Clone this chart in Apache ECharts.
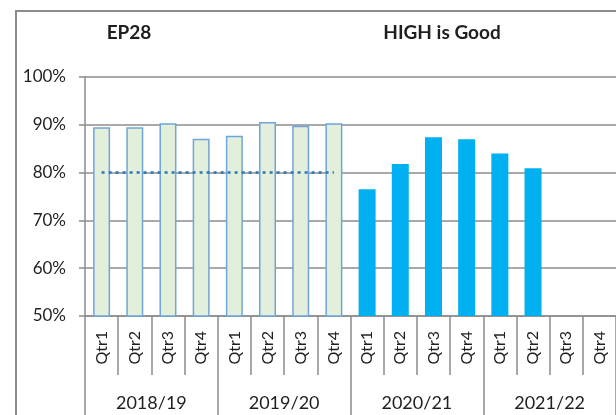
<!DOCTYPE html>
<html>
<head>
<meta charset="utf-8">
<title>EP28</title>
<script src="https://cdn.jsdelivr.net/npm/echarts@6/dist/echarts.min.js"></script>
<style>
  html, body { margin: 0; padding: 0; background: #fff; }
  #chart { width: 616px; height: 415px; }
</style>
</head>
<body>
<div id="chart"></div>
<script>
const years = ['2018/19', '2019/20', '2020/21', '2021/22'];
const quarters = ['Qtr1', 'Qtr2', 'Qtr3', 'Qtr4'];
// light green bars (2018/19 - 2019/20)
const baselineValues = [89.5, 89.5, 90.3, 87.1, 87.7, 90.6, 89.8, 90.3];
// blue bars (2020/21 onwards)
const currentValues = [76.5, 81.8, 87.4, 87.0, 84.0, 80.9];
// dotted target line over the first two years
const targetValues = [80, 80, 80, 80, 80, 80, 80, 80];
const yTicks = [50, 60, 70, 80, 90, 100];

const categories = [];
years.forEach(function () {
  quarters.forEach(function (q) { categories.push(q); });
});

const pad = function (arr, before, total) {
  const out = [];
  for (let i = 0; i < total; i++) {
    const j = i - before;
    out.push(j >= 0 && j < arr.length ? arr[j] : null);
  }
  return out;
};

const font = 'Lato, "Open Sans", sans-serif';
const gray = '#8c8c8c';
const textColor = '#1f1f1f';

const chart = echarts.init(document.getElementById('chart'));
chart.setOption({
  animation: false,
  textStyle: { fontFamily: font },
  graphic: [
    {
      type: 'rect',
      shape: { x: 16, y: 11, width: 700, height: 500 },
      style: { fill: 'none', stroke: gray, lineWidth: 2 },
      silent: true
    },
    {
      type: 'text', x: 129, y: 33,
      style: { text: 'EP28', font: 'bold 19px ' + font, fill: textColor, textAlign: 'center', textVerticalAlign: 'middle' }
    },
    {
      type: 'text', x: 442, y: 33,
      style: { text: 'HIGH is Good', font: 'bold 19px ' + font, fill: textColor, textAlign: 'center', textVerticalAlign: 'middle' }
    }
  ],
  grid: { left: 85, top: 77, width: 536, height: 239, containLabel: false },
  xAxis: [
    {
      type: 'category',
      data: categories,
      position: 'bottom',
      axisLine: { show: true, lineStyle: { color: gray, width: 1.5 } },
      axisTick: { show: true, interval: 0, length: 59, lineStyle: { color: gray, width: 1.5 } },
      axisLabel: { interval: 0, rotate: 90, margin: 15, fontSize: 16, color: textColor }
    },
    {
      type: 'category',
      data: years,
      position: 'bottom',
      axisLine: { show: false },
      axisTick: { show: true, interval: 0, length: 110, lineStyle: { color: gray, width: 1.5 } },
      axisLabel: { interval: 0, margin: 78, fontSize: 18, color: textColor }
    }
  ],
  yAxis: {
    type: 'value',
    min: yTicks[0],
    max: yTicks[yTicks.length - 1],
    interval: 10,
    axisLine: { show: true, lineStyle: { color: gray, width: 1.5 } },
    axisTick: { show: true, length: 6, lineStyle: { color: gray, width: 1.5 } },
    axisLabel: { formatter: '{value}%', margin: 19, fontSize: 17, color: textColor },
    splitLine: { show: true, lineStyle: { color: gray, width: 1.5 } }
  },
  series: [
    {
      type: 'bar',
      data: pad(baselineValues, 0, categories.length),
      barWidth: 17,
      barGap: '-100%',
      itemStyle: { color: '#e2efda', borderColor: '#6fa5dc', borderWidth: 1.5 }
    },
    {
      type: 'bar',
      data: pad(currentValues, baselineValues.length, categories.length),
      barWidth: 17,
      barGap: '-100%',
      itemStyle: { color: '#00b0f0' }
    },
    {
      type: 'line',
      data: pad(targetValues, 0, categories.length),
      symbol: 'none',
      lineStyle: { color: '#2e75b6', width: 2.5, type: [3, 4] },
      z: 5
    }
  ]
});
</script>
</body>
</html>
